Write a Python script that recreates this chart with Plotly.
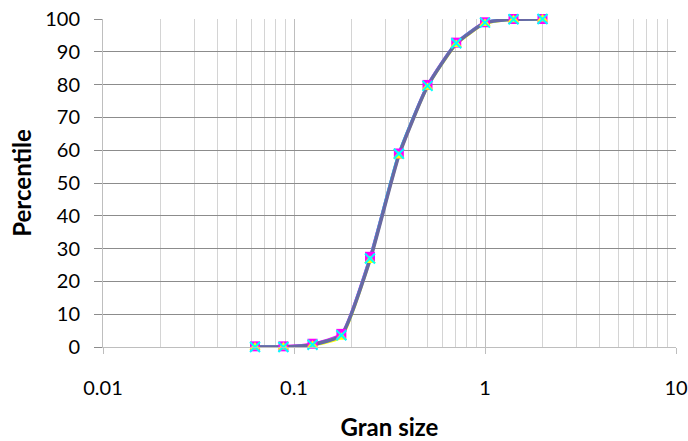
import plotly.graph_objects as go

# Grain size (mm) on a phi-scale, cumulative percentile per sample
grain_size = [0.0625, 0.088, 0.125, 0.177, 0.25, 0.354, 0.5, 0.707, 1.0, 1.41, 2.0]
sample_a = [0.2, 0.2, 1.0, 4.0, 27.5, 59.0, 79.9, 92.8, 99.0, 100.0, 100.0]
sample_b = [0.0, 0.0, 0.5, 3.0, 26.4, 58.2, 79.2, 92.2, 98.6, 99.8, 100.0]
sample_c = [0.0, 0.0, 0.7, 3.6, 27.0, 58.9, 79.6, 92.6, 98.9, 99.9, 100.0]
sample_d = [0.0, 0.0, 0.7, 3.6, 26.6, 58.4, 79.5, 92.5, 98.8, 99.9, 100.0]

x_tickvals = [0.01, 0.1, 1, 10]
x_ticktext = ["0.01", "0.1", "1", "10"]
y_tickvals = [0, 10, 20, 30, 40, 50, 60, 70, 80, 90, 100]

fig = go.Figure()

# lines first (so markers sit on top)
line_series = [
    (sample_a, "#FF00FF", 2.5),
    (sample_b, "#FFFF00", 2.5),
    (sample_c, "#00FFFF", 3),
    (sample_d, "#6868A4", 3.5),
]
for ys, col, w in line_series:
    fig.add_trace(go.Scatter(
        x=grain_size, y=ys, mode="lines",
        line=dict(color=col, width=w, shape="spline", smoothing=0.5),
        showlegend=False, cliponaxis=False, hoverinfo="skip"))

marker_series = [
    (sample_a, dict(symbol="square", color="#FF00FF", size=10)),
    (sample_b, dict(symbol="triangle-up", color="#FFFF00", size=10)),
    (sample_c, dict(symbol="x-thin", color="#00FFFF", size=10,
                    line=dict(color="#00FFFF", width=2))),
]
for ys, mk in marker_series:
    fig.add_trace(go.Scatter(
        x=grain_size, y=ys, mode="markers", marker=mk,
        showlegend=False, cliponaxis=False))

font_family = "Lato, 'Open Sans', sans-serif"

fig.update_layout(
    width=688, height=441,
    margin=dict(l=103, r=12, t=19, b=94),
    paper_bgcolor="white", plot_bgcolor="white",
    font=dict(family=font_family, size=20, color="black"),
    xaxis=dict(
        type="log", range=[-2, 1], automargin=False,
        tickvals=x_tickvals, ticktext=x_ticktext,
        ticklabeloverflow="allow",
        showgrid=True, gridcolor="#BEBEBE", gridwidth=1,
        minor=dict(showgrid=True, gridcolor="#D4D4D4", gridwidth=1,
                   dtick="D1", ticks=""),
        ticks="outside", ticklen=6, tickcolor="#BEBEBE",
        showline=True, linecolor="#BEBEBE", linewidth=1,
        zeroline=False,
        title=dict(text="<b>Gran size</b>", font=dict(size=24), standoff=32),
        ticklabelstandoff=17,
    ),
    yaxis=dict(
        range=[0, 100], tickvals=y_tickvals, automargin=False,
        ticklabeloverflow="allow",
        showgrid=True, gridcolor="#8C8C8C", gridwidth=1,
        ticks="outside", ticklen=8, tickcolor="#8C8C8C",
        showline=True, linecolor="#BEBEBE", linewidth=1,
        zeroline=False,
        title=dict(text="<b>Percentile</b>", font=dict(size=24), standoff=6),
        ticklabelstandoff=10,
    ),
)

fig.write_html(
    "out.html",
    config={"displayModeBar": False},
    post_script="document.body.style.margin='0';",
)
